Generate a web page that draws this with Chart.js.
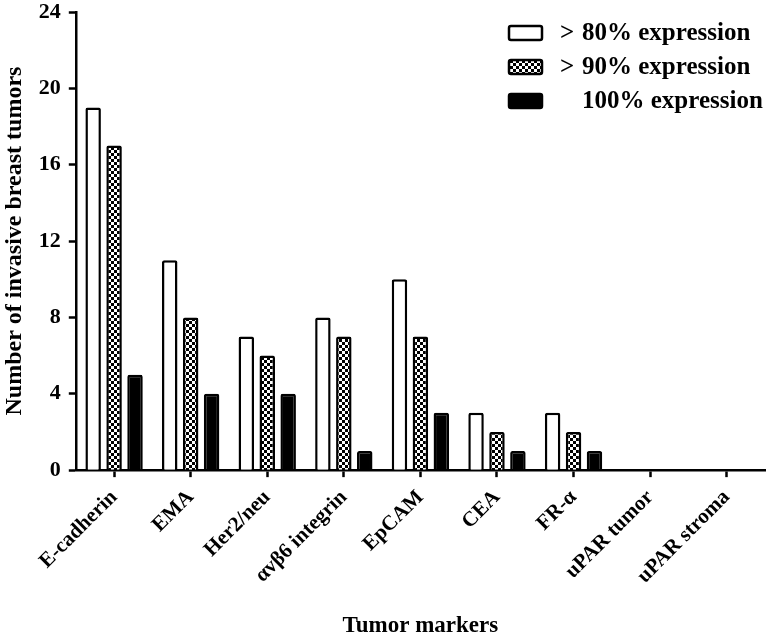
<!DOCTYPE html>
<html>
<head>
<meta charset="utf-8">
<script src="https://cdn.jsdelivr.net/npm/chart.js@4.4.0/dist/chart.umd.min.js"></script>
<style>
  html, body { margin: 0; padding: 0; background: #fff; }
  #wrap { width: 770px; height: 635px; position: relative; }
</style>
</head>
<body>
<div id="wrap"><canvas id="chart"></canvas></div>
<script>
// data
const markers = ['E-cadherin', 'EMA', 'Her2/neu', 'αvβ6 integrin', 'EpCAM', 'CEA', 'FR-α', 'uPAR tumor', 'uPAR stroma'];
const seriesLabels = ['> 80% expression', '> 90% expression', '100% expression'];
const over80 = [19, 11, 7, 8, 10, 3, 3, 0, 0];
const over90 = [17, 8, 6, 7, 7, 2, 2, 0, 0];
const full100 = [5, 4, 4, 1, 3, 1, 1, 0, 0];
const yTicks = [0, 4, 8, 12, 16, 20, 24];

const FONT = '"Liberation Serif", "Times New Roman", serif';

// small black/white checkerboard for the >90% bars
function checkerPattern() {
  const c = document.createElement('canvas');
  c.width = 6; c.height = 6;
  const g = c.getContext('2d');
  g.fillStyle = '#fff';
  g.fillRect(0, 0, 6, 6);
  g.fillStyle = '#000';
  g.fillRect(0, 0, 3, 3);
  g.fillRect(3, 3, 3, 3);
  return g.createPattern(c, 'repeat');
}

const ctx = document.getElementById('chart');
const checker = checkerPattern();

// legend drawn in the top-right of the plot, like the Prism original
// the ">" sits in its own column so "80%", "90%" and "100%" line up
const boxLegend = {
  id: 'boxLegend',
  afterDraw(chart) {
    const c = chart.ctx;
    const area = chart.chartArea;
    const x0 = area.right - 256;
    const y0 = area.top + 21;
    c.save();
    c.font = 'bold 25px ' + FONT;
    c.textBaseline = 'middle';
    chart.data.datasets.forEach((ds, i) => {
      const y = y0 + i * 34;
      c.beginPath();
      c.roundRect(x0, y - 7, 33, 14, 2);
      c.fillStyle = ds.backgroundColor;
      c.fill();
      c.lineWidth = 2.5;
      c.strokeStyle = '#000';
      c.stroke();
      c.fillStyle = '#000';
      let txt = ds.label;
      if (txt.startsWith('> ')) {
        c.fillText('>', x0 + 51, y + 1);
        txt = txt.slice(2);
      }
      c.fillText(txt, x0 + 73, y + 1);
    });
    c.restore();
  }
};

new Chart(ctx, {
  type: 'bar',
  data: {
    labels: markers,
    datasets: [
      { label: seriesLabels[0], data: over80, backgroundColor: '#fff' },
      { label: seriesLabels[1], data: over90, backgroundColor: checker },
      { label: seriesLabels[2], data: full100, backgroundColor: '#000' }
    ]
  },
  options: {
    responsive: true,
    maintainAspectRatio: false,
    animation: false,
    layout: { padding: { top: 0, right: 5, left: 0, bottom: 0 } },
    datasets: {
      bar: {
        borderColor: '#000',
        borderWidth: 2.5,
        borderRadius: 2,
        borderSkipped: 'start',
        barPercentage: 0.74,
        categoryPercentage: 0.82
      }
    },
    plugins: {
      legend: { display: false },
      tooltip: { enabled: false }
    },
    scales: {
      x: {
        grid: { display: true, drawOnChartArea: false, drawTicks: true, tickLength: 7, tickWidth: 2.5, tickColor: '#000', offset: false },
        border: { color: '#000', width: 2.5 },
        ticks: {
          color: '#000',
          font: { family: FONT, size: 21, weight: 'bold' },
          minRotation: 45,
          maxRotation: 45,
          padding: 8
        },
        title: {
          display: true,
          text: 'Tumor markers',
          color: '#000',
          font: { family: FONT, size: 23, weight: 'bold', lineHeight: 0.8 },
          padding: { top: 20, bottom: 0 }
        }
      },
      y: {
        min: 0,
        max: 24,
        afterBuildTicks(axis) {
          axis.ticks = yTicks.map(v => ({ value: v }));
        },
        afterFit(axis) {
          axis.paddingTop = 12;
        },
        grid: { display: true, drawOnChartArea: false, drawTicks: true, tickLength: 7, tickWidth: 2.5, tickColor: '#000' },
        border: { color: '#000', width: 2.5 },
        ticks: {
          color: '#000',
          font: { family: FONT, size: 22, weight: 'bold' },
          padding: 8
        },
        title: {
          display: true,
          text: 'Number of invasive breast tumors',
          color: '#000',
          font: { family: FONT, size: 24, weight: 'bold' },
          padding: { top: 0, bottom: 2 }
        }
      }
    }
  },
  plugins: [boxLegend]
});
</script>
</body>
</html>
